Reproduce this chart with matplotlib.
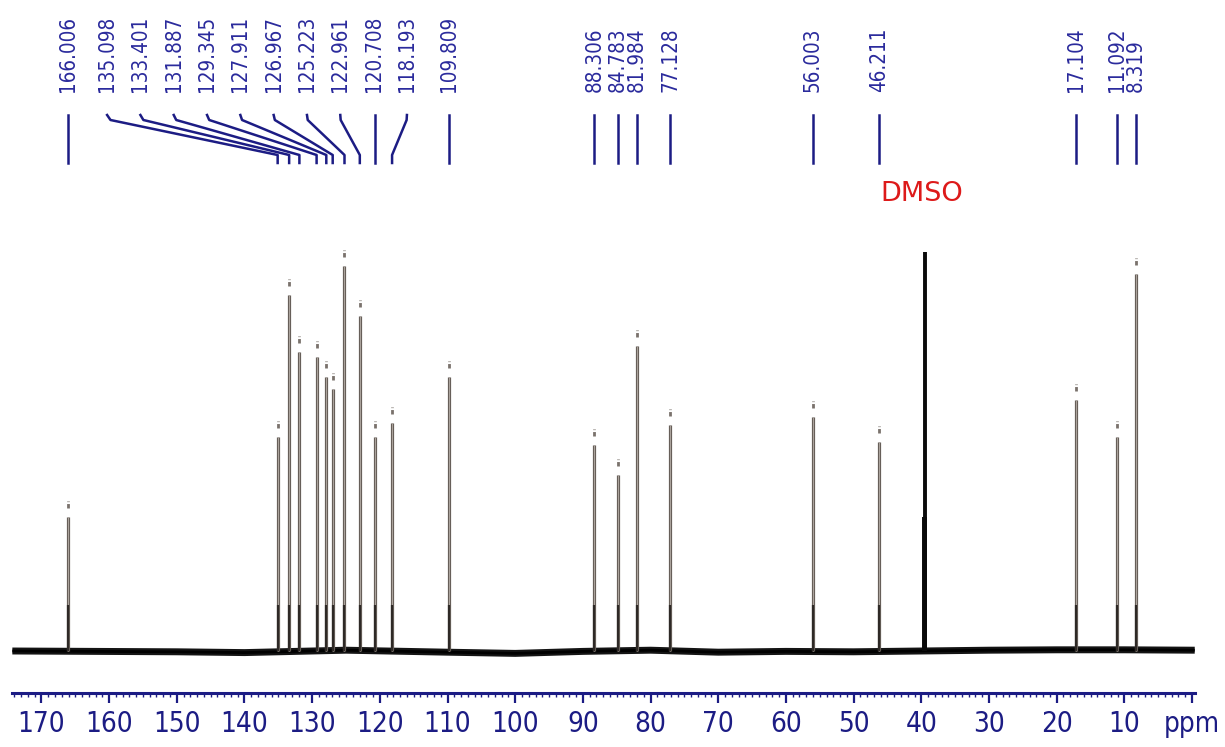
import numpy as np
import matplotlib
matplotlib.use("Agg")
import matplotlib.pyplot as plt
import matplotlib.transforms as mtransforms
from matplotlib.ticker import MultipleLocator, FixedLocator

# 13C peak list (ppm) and relative heights (solvent peak = 100)
peak_ppm = [166.006, 135.098, 133.401, 131.887, 129.345, 127.911, 126.967,
            125.223, 122.961, 120.708, 118.193, 109.809, 88.306, 84.783,
            81.984, 77.128, 56.003, 46.211, 17.104, 11.092, 8.319]
peak_height = [33.6, 53.6, 89.2, 74.9, 73.7, 68.7, 65.7,
               96.5, 84.0, 53.6, 57.1, 68.7, 51.6, 44.1,
               76.4, 56.6, 58.6, 52.4, 62.9, 53.6, 94.5]
peak_text = ["166.006", "135.098", "133.401", "131.887", "129.345", "127.911",
             "126.967", "125.223", "122.961", "120.708", "118.193", "109.809",
             "88.306", "84.783", "81.984", "77.128", "56.003", "46.211",
             "17.104", "11.092", "8.319"]

# DMSO-d6 solvent multiplet
dmso_ppm = [39.71, 39.50, 39.29]
dmso_height = [33.6, 100.0, 33.6]

# baseline drift
base_ppm = [174.3, 150, 140, 125, 110, 100, 90, 80, 70, 60, 50, 40, 30, 20, 10, -0.4]
base_val = [0.0, -0.2, -0.4, 0.2, -0.3, -0.6, -0.1, 0.2, -0.3, -0.1, -0.2, 0.0, 0.2, 0.3, 0.3, 0.2]

W, H = 1225, 747
fig = plt.figure(figsize=(W / 100, H / 100), dpi=100)
ax = fig.add_axes([12 / W, (H - 693) / H, 1183 / W, 693 / H])
ax.set_xlim(174.35, -0.44)
ax.set_ylim(-10.53, 163.2)

navy = "#1c1c84"
label_blue = "#2a2a9c"
cond = dict(family="DejaVu Sans", stretch="condensed")
trans = mtransforms.blended_transform_factory(ax.transData, ax.transAxes)
fy = lambda ypx: (693 - ypx) / 693

# baseline (noisy band)
ax.plot(base_ppm, base_val, color="#141414", lw=5.0, solid_capstyle="butt", zorder=2)
ax.plot(base_ppm, base_val, color="#000000", lw=2.0, solid_capstyle="butt", zorder=2)

# peaks with their pick markers
for x, h in zip(peak_ppm, peak_height):
    ax.plot([x, x], [0, h], color="#5e5650", lw=2.3, solid_capstyle="butt", zorder=3)
    ax.plot([x, x], [0, h], color="#aba39c", lw=0.9, solid_capstyle="butt", zorder=4)
    ax.plot([x, x], [0, 11.5], color="#2e2926", lw=1.6, solid_capstyle="butt", zorder=4)
    ax.plot([x, x], [h + 2.3, h + 4.1], color="#7a726c", lw=2.0,
            linestyle=(0, (1.6, 0.7)), solid_capstyle="butt", zorder=4)

for x, h in zip(dmso_ppm, dmso_height):
    ax.plot([x, x], [0, h], color="#0a0a0a", lw=2.8 if h == 100 else 1.4,
            solid_capstyle="butt", zorder=5)

ax.text(40.0, fy(194), "DMSO", color="#dd1a1a", fontsize=19.5, ha="center",
        va="center", transform=trans)

# peak labels along the top; the crowded aromatic group is spread out evenly
label_ppm = list(peak_ppm)
spread = np.linspace(160.3, 116.0, 10)
for i in range(1, 11):
    label_ppm[i] = spread[i - 1]

for lx, px, txt in zip(label_ppm, peak_ppm, peak_text):
    ax.text(lx, fy(92), txt, rotation=90, ha="center", va="bottom",
            fontsize=14.8, color=label_blue, transform=trans, **cond)
    if abs(lx - px) < 0.5:
        xs, ys = [px, px], [fy(115), fy(163)]
    else:
        xs = [lx, lx + (px - lx) * 0.02, px, px]
        ys = [fy(115), fy(120), fy(155), fy(163)]
    ax.plot(xs, ys, color=navy, lw=1.8, transform=trans, clip_on=False,
            solid_joinstyle="round", zorder=6)

# ppm axis
for s in ["top", "left", "right"]:
    ax.spines[s].set_visible(False)
ax.spines["bottom"].set_color(navy)
ax.spines["bottom"].set_linewidth(2.2)
ax.yaxis.set_visible(False)
ticks = list(range(170, -1, -10))
ax.xaxis.set_major_locator(FixedLocator(ticks))
ax.set_xticklabels([str(t) if t else "ppm" for t in ticks])
ax.xaxis.set_minor_locator(MultipleLocator(1))
ax.tick_params(axis="x", which="major", direction="out", length=7.5, width=1.6,
               color=navy, labelcolor=navy, labelsize=20, pad=5)
ax.tick_params(axis="x", which="minor", direction="out", length=2.8, width=1.0, color=navy)
for lab in ax.get_xticklabels():
    lab.set_fontstretch("condensed")

fig.savefig("out.png", dpi=100)
